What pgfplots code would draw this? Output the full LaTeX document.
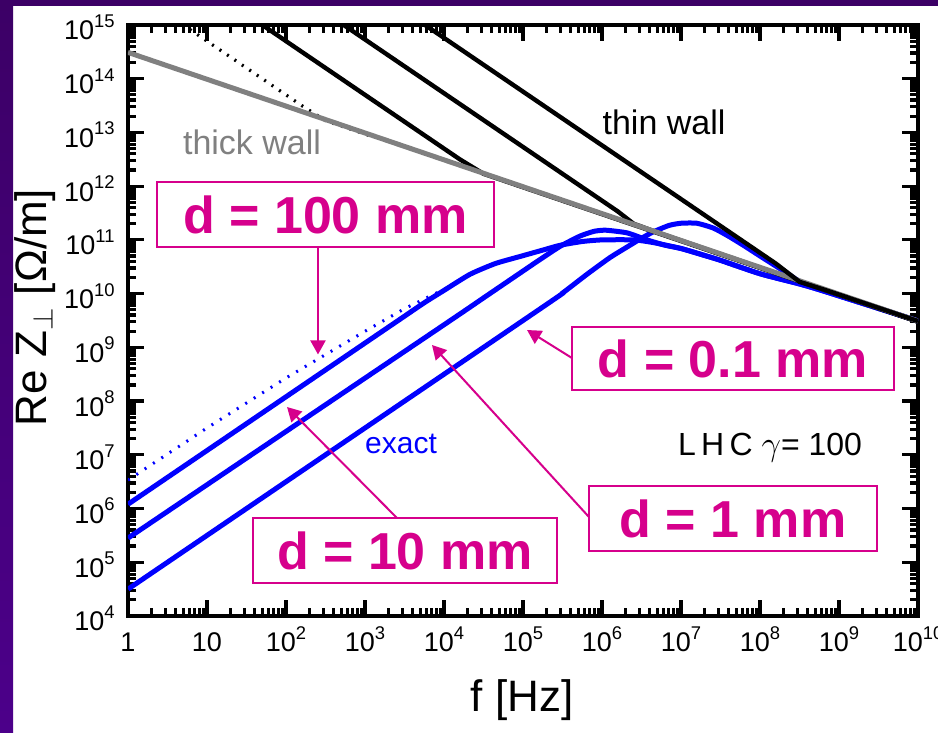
\documentclass[border=0pt]{standalone}
\usepackage{fontspec}
\setmainfont{Liberation Sans}
\usepackage{pgfplots}
\pgfplotsset{compat=1.18}
\usetikzlibrary{arrows.meta}

\definecolor{bgtop}{RGB}{60,0,102}
\definecolor{bgbot}{RGB}{76,0,138}
\definecolor{mag}{RGB}{214,0,140}
\definecolor{thickgray}{RGB}{128,128,128}

% power-of-ten tick label in the text font
\newcommand{\tk}[1]{10\raisebox{6.3pt}{\fontsize{9.2}{9.2}\selectfont #1}}

\begin{document}
\begin{tikzpicture}
\fill[white] (0,0) rectangle (469pt,366.5pt);
\shade[top color=bgtop, bottom color=bgbot] (0,0) rectangle (6.5pt,366.5pt);
\fill[bgtop] (0,363.5pt) rectangle (469pt,366.5pt);

\begin{axis}[
  at={(64pt,58.5pt)}, anchor=south west,
  scale only axis, width=395pt, height=295.5pt,
  xmode=log, ymode=log,
  xmin=1, xmax=1e10, ymin=1e4, ymax=1e15,
  axis line style={line width=2pt},
  every tick/.style={black, line width=1.6pt},
  major tick length=8pt, minor tick length=4pt,
  xtick={1,10,100,1e3,1e4,1e5,1e6,1e7,1e8,1e9,1e10},
  xticklabels={1,10,\tk{2},\tk{3},\tk{4},\tk{5},\tk{6},\tk{7},\tk{8},\tk{9},\tk{10}},
  ytick={1e4,1e5,1e6,1e7,1e8,1e9,1e10,1e11,1e12,1e13,1e14,1e15},
  yticklabels={\tk{4},\tk{5},\tk{6},\tk{7},\tk{8},\tk{9},\tk{10},\tk{11},\tk{12},\tk{13},\tk{14},\tk{15}},
  ticklabel style={font=\fontsize{13.5}{13.5}\selectfont, inner sep=0pt},
  xticklabel style={anchor=base, yshift=-18pt},
  yticklabel style={anchor=base east, xshift=-6.5pt, yshift=-7.5pt},
]

% exact, d = 100 mm (dotted)
\addplot[blue, line width=1.5pt, dash pattern=on 1pt off 4pt] coordinates {
  (1,3.388e6) (10,3.162e7) (100,2.692e8) (1e3,1.995e9) (3.162e3,5.248e9)
  (1e4,1.202e10) (2.138e4,2.291e10) };

% exact, d = 10 mm
\addplot[blue, line width=2.5pt, smooth, tension=0.35] coordinates {
  (1,1.202e6) (1e3,1.202e9) (3.162e3,3.802e9) (5.623e3,6.761e9) (1e4,1.148e10)
  (2.138e4,2.291e10) (4.467e4,3.631e10) (9.120e4,4.898e10) (1.778e5,6.457e10)
  (2.951e5,7.943e10) (5.623e5,9.333e10) (1e6,1e11) (2.512e6,1e11)
  (4.467e6,8.913e10) (1e7,6.918e10) (1.995e7,5.129e10) (3.162e7,4.169e10)
  (1e8,2.344e10) (3.162e8,1.514e10) (6.31e8,1.122e10) (1e10,3.09e9) };

% exact, d = 1 mm
\addplot[blue, line width=2.5pt, smooth, tension=0.35] coordinates {
  (1,2.818e5) (1e4,2.630e9) (3.162e4,8.318e9) (9.120e4,2.399e10)
  (1.585e5,4.169e10) (2.951e5,7.586e10) (5.248e5,1.175e11) (7.943e5,1.445e11)
  (1.122e6,1.514e11) (2.089e6,1.349e11) (3.715e6,1e11) (6.310e6,7.943e10)
  (1e7,6.918e10) (1.995e7,5.129e10) (3.162e7,4.169e10) (1e8,2.344e10)
  (3.162e8,1.514e10) (6.31e8,1.122e10) (1e10,3.09e9) };

% exact, d = 0.1 mm
\addplot[blue, line width=2.5pt, smooth, tension=0.35] coordinates {
  (1,3.162e4) (1.514e5,4.786e9) (3.162e5,1.023e10) (6.457e5,2.291e10)
  (1.259e6,4.677e10) (2.089e6,7.413e10) (3.162e6,1.072e11) (4.467e6,1.413e11)
  (7.079e6,1.862e11) (1e7,2.042e11) (1.585e7,2.042e11) (2.570e7,1.660e11)
  (3.981e7,1.175e11) (6.310e7,7.762e10) (1e8,5.012e10) (1.995e8,2.630e10)
  (3.162e8,1.698e10) (6.310e8,1.175e10) (1e10,3.09e9) };

% thin wall, d = 100 mm (dotted)
\addplot[black, line width=1.6pt, dash pattern=on 1pt off 3.5pt] coordinates {
  (3.162,1.585e15) (158.5,3.16e13) (316.2,1.66e13) (1259,8.32e12) };

% thin wall, d = 10 mm
\addplot[black, line width=2.2pt] coordinates {
  (31.62,1.585e15) (1.585e4,3.16e12) (3.162e4,1.70e12) (1e10,3.0e9) };

% thin wall, d = 1 mm
\addplot[black, line width=2.2pt] coordinates {
  (339,1.585e15) (1.585e6,3.39e11) (2.512e6,2.0e11) (5.012e6,1.38e11) (1e10,3.0e9) };

% thick wall
\addplot[thickgray, line width=2.5pt] coordinates {
  (1,3.09e14) (1e10,3.09e9) };

% thin wall, d = 0.1 mm
\addplot[black, line width=2.2pt] coordinates {
  (3.63e3,1.585e15) (1.585e8,3.63e10) (3.162e8,1.66e10) (6.31e8,1.20e10) (1e10,3.09e9) };

% text
\node[font=\fontsize{17}{17}\selectfont] at (rel axis cs:0.6785,0.8359) {thin wall};
\node[font=\fontsize{17}{17}\selectfont, text=thickgray] at (rel axis cs:0.157,0.802) {thick wall};
\node[font=\fontsize{15}{15}\selectfont, text=blue] at (rel axis cs:0.3456,0.291) {exact};
\node[font=\fontsize{16}{16}\selectfont] at (rel axis cs:0.8127,0.2843) {L\,H\,C $\gamma$= 100};

% labelled boxes and arrows
\tikzset{dbox/.style={draw=mag, line width=1pt, fill=white, inner sep=0pt, text=mag,
  font=\fontsize{26}{26}\selectfont\bfseries},
  darr/.style={mag, line width=1pt, -{Triangle[length=7pt,width=7.5pt]}}}

\draw[darr] (rel axis cs:0.2405,0.6286) -- (rel axis cs:0.2405,0.4425);
\draw[darr] (rel axis cs:0.5620,0.4365) -- (rel axis cs:0.5051,0.4839);
\draw[darr] (rel axis cs:0.5835,0.1675) -- (rel axis cs:0.3848,0.4585);
\draw[darr] (rel axis cs:0.3405,0.1658) -- (rel axis cs:0.2013,0.3536);

\node[dbox, minimum width=168.5pt, minimum height=32.5pt] at (rel axis cs:0.25,0.6794) {d = 100 mm};
\node[dbox, minimum width=161pt, minimum height=31.5pt] at (rel axis cs:0.7658,0.4357) {d = 0.1 mm};
\node[dbox, minimum width=144pt, minimum height=32.5pt] at (rel axis cs:0.7658,0.165) {d = 1 mm};
\node[dbox, minimum width=152pt, minimum height=32.5pt] at (rel axis cs:0.3506,0.1108) {d = 10 mm};
\end{axis}

\node[rotate=90, font=\fontsize{22}{22}\selectfont] at (17.5pt,212.75pt) {Re Z$_\perp$ [Ω/m]};
\node[font=\fontsize{22}{22}\selectfont] at (261pt,16.5pt) {f [Hz]};

\pgfresetboundingbox
\useasboundingbox (0,0) rectangle (469pt,366.5pt);
\end{tikzpicture}
\end{document}
